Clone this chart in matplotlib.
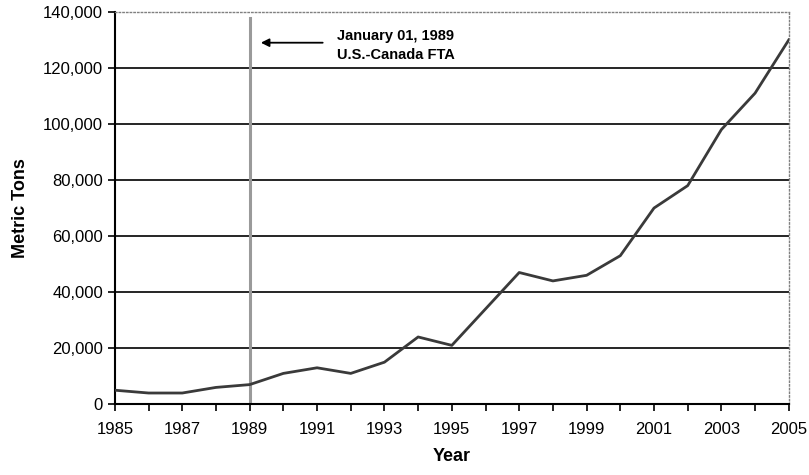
import matplotlib
matplotlib.use("Agg")
import matplotlib.pyplot as plt
from matplotlib.ticker import FuncFormatter, MultipleLocator, FixedLocator

years = list(range(1985, 2006))
tons = [5000, 4000, 4000, 6000, 7000, 11000, 13000, 11000, 15000, 24000,
        21000, 34000, 47000, 44000, 46000, 53000, 70000, 78000, 98000, 111000, 130000]
label_years = list(range(1985, 2006, 2))
fta_year = 1989
note_lines = ["January 01, 1989", "U.S.-Canada FTA"]

plt.rcParams['font.family'] = ['Liberation Sans', 'DejaVu Sans']
fig = plt.figure(figsize=(8.09, 4.75), dpi=100)
ax = fig.add_axes([0.142, 0.149, 0.833, 0.826])

for v in range(20000, 140000, 20000):
    ax.axhline(v, color='black', lw=1.2, zorder=1)

ax.plot(years, tons, color='#3a3a3a', lw=2, zorder=3)
ax.axvline(fta_year, ymin=0, ymax=0.985, color='#9a9a9a', lw=2.2, zorder=2)

ax.set_xlim(1985, 2005)
ax.set_ylim(0, 140000)
ax.xaxis.set_major_locator(FixedLocator(label_years))
ax.xaxis.set_minor_locator(MultipleLocator(1))
ax.yaxis.set_major_locator(MultipleLocator(20000))
ax.yaxis.set_major_formatter(FuncFormatter(lambda v, p: f"{int(v):,}"))
ax.tick_params(axis='both', which='both', direction='out', length=5, width=1.2,
               labelsize=12, colors='black')
ax.tick_params(axis='x', pad=8)

for s in ['left', 'bottom']:
    ax.spines[s].set_linewidth(1.5)
    ax.spines[s].set_color('black')
for s in ['top', 'right']:
    ax.spines[s].set_linestyle(':')
    ax.spines[s].set_color('#808080')
    ax.spines[s].set_linewidth(1)

ax.set_xlabel('Year', fontsize=13, fontweight='bold', labelpad=8)
ax.set_ylabel('Metric Tons', fontsize=13, fontweight='bold', labelpad=10)

ax.annotate('', xy=(1989.25, 129000), xytext=(1991.25, 129000),
            arrowprops=dict(arrowstyle='-|>', color='black', lw=1.3, mutation_scale=12))
ax.text(1991.6, 131500, note_lines[0], fontsize=10.5, fontweight='bold', va='center')
ax.text(1991.6, 124500, note_lines[1], fontsize=10.5, fontweight='bold', va='center')

fig.savefig('out.png', dpi=100)
